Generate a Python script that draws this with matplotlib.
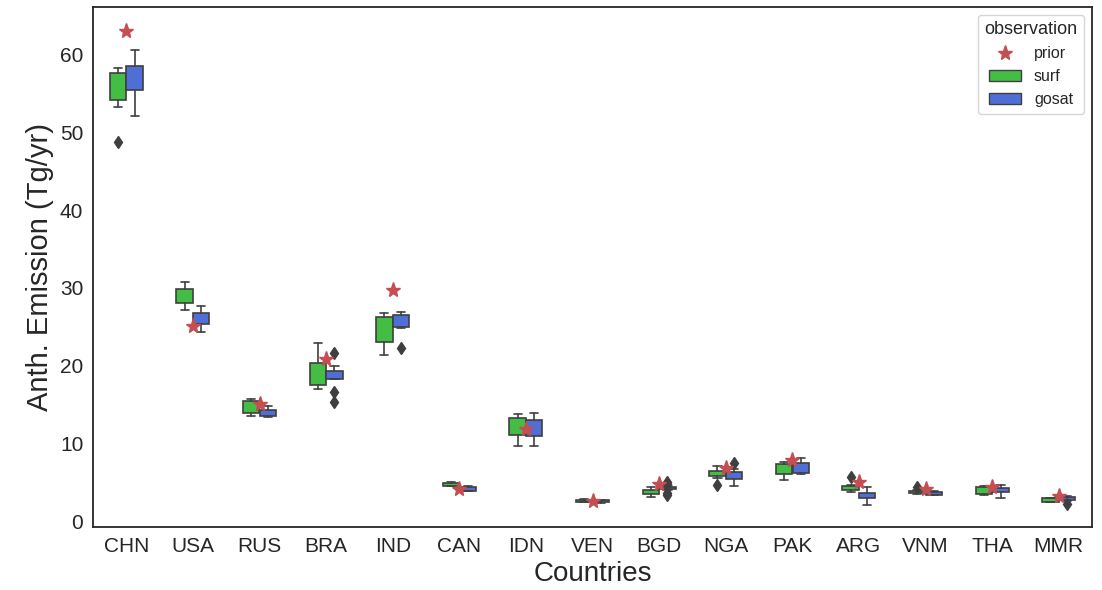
import matplotlib.pyplot as plt
import seaborn as sns
from matplotlib.lines import Line2D
from matplotlib.patches import Patch

# countries on the x axis
countries = ["CHN", "USA", "RUS", "BRA", "IND", "CAN", "IDN", "VEN",
             "BGD", "NGA", "PAK", "ARG", "VNM", "THA", "MMR"]

# prior emission (Tg/yr)
prior = [63.0, 25.1, 15.1, 20.9, 29.7, 4.1, 11.8, 2.6,
         4.7, 6.8, 7.8, 5.05, 4.1, 4.35, 3.2]

# surf posterior box stats: lower whisker, q1, q3, upper whisker
surf_lo = [53.3, 27.1, 13.55, 17.0, 21.3, 4.45, 9.65, 2.4,
           3.1, 5.5, 5.25, 3.75, 3.5, 3.35, 2.4]
surf_q1 = [54.1, 28.05, 13.9, 17.5, 23.0, 4.55, 11.0, 2.5,
           3.5, 5.75, 6.1, 3.95, 3.6, 3.45, 2.5]
surf_q3 = [57.6, 29.85, 15.45, 20.3, 26.2, 4.9, 13.2, 2.7,
           4.05, 6.4, 7.3, 4.45, 3.85, 4.35, 2.9]
surf_hi = [58.3, 30.7, 15.65, 22.85, 26.8, 5.05, 13.75, 2.8,
           4.35, 7.1, 7.65, 4.6, 3.95, 4.55, 3.0]
surf_fliers = [[48.8], [], [], [], [], [], [], [],
               [], [4.6], [], [5.6], [4.4], [], []]

# gosat posterior box stats
gosat_lo = [52.1, 24.35, 13.4, 18.2, 24.8, 3.85, 9.65, 2.35,
            4.0, 4.5, 6.0, 2.05, 3.35, 3.0, 2.55]
gosat_q1 = [55.4, 25.3, 13.45, 18.3, 24.9, 3.9, 10.95, 2.45,
            4.1, 5.45, 6.15, 2.9, 3.4, 3.75, 2.7]
gosat_q3 = [58.55, 26.7, 14.3, 19.3, 26.5, 4.35, 13.0, 2.65,
            4.35, 6.25, 7.5, 3.55, 3.75, 4.3, 3.05]
gosat_hi = [60.6, 27.7, 14.75, 19.9, 26.9, 4.5, 13.85, 2.75,
            4.45, 6.7, 8.05, 4.35, 3.85, 4.6, 3.2]
gosat_fliers = [[], [], [], [21.6, 16.6, 15.3], [22.3], [], [], [],
                [5.0, 4.7, 3.6, 3.3], [7.4], [], [], [], [], [2.15]]

GREEN = "#43bd43"
BLUE = "#4f6fd6"
STAR = "#c44e52"
EDGE = "#3f3f3f"

sns.set_style("white")
plt.rcParams["font.family"] = ["Liberation Sans", "DejaVu Sans"]

fig = plt.figure(figsize=(11.02, 5.9), dpi=100)
ax = fig.add_axes([0.0844, 0.1068, 0.9066, 0.8812])


def make_stats(lo, q1, q3, hi, fl):
    out = []
    for a, b, c, d, f in zip(lo, q1, q3, hi, fl):
        out.append({"whislo": a, "q1": b, "med": b, "q3": c,
                    "whishi": d, "fliers": f})
    return out


x = list(range(len(countries)))
common = dict(
    widths=0.245,
    patch_artist=True,
    showfliers=True,
    whiskerprops={"color": EDGE, "linewidth": 1.2},
    capprops={"color": EDGE, "linewidth": 1.2},
    medianprops={"linewidth": 0},
    flierprops={"marker": "d", "markerfacecolor": EDGE,
                "markeredgecolor": EDGE, "markersize": 6},
)
b1 = ax.bxp(make_stats(surf_lo, surf_q1, surf_q3, surf_hi, surf_fliers),
            positions=[i - 0.125 for i in x],
            boxprops={"facecolor": GREEN, "edgecolor": EDGE, "linewidth": 1.2},
            **common)
b2 = ax.bxp(make_stats(gosat_lo, gosat_q1, gosat_q3, gosat_hi, gosat_fliers),
            positions=[i + 0.125 for i in x],
            boxprops={"facecolor": BLUE, "edgecolor": EDGE, "linewidth": 1.2},
            **common)

ax.plot(x, prior, linestyle="none", marker="*", color=STAR,
        markersize=11, zorder=5)

ax.set_xlim(-0.5, len(countries) - 0.5)
ax.set_ylim(-0.77, 66.1)
ax.set_xticks(x)
ax.set_xticklabels(countries, fontsize=15)
ax.set_yticks([0, 10, 20, 30, 40, 50, 60])
ax.tick_params(axis="y", labelsize=15)
ax.set_xlabel("Countries", fontsize=20)
ax.set_ylabel("Anth. Emission (Tg/yr)", fontsize=21)
for s in ax.spines.values():
    s.set_color("#262626")
    s.set_linewidth(1.3)

handles = [
    Line2D([], [], linestyle="none", marker="*", color=STAR, markersize=11,
           label="prior"),
    Patch(facecolor=GREEN, edgecolor=EDGE, label="surf"),
    Patch(facecolor=BLUE, edgecolor=EDGE, label="gosat"),
]
ax.legend(handles=handles, title="observation", loc="upper right",
          fontsize=11.5, title_fontsize=13)

fig.savefig("out.png", dpi=100)
